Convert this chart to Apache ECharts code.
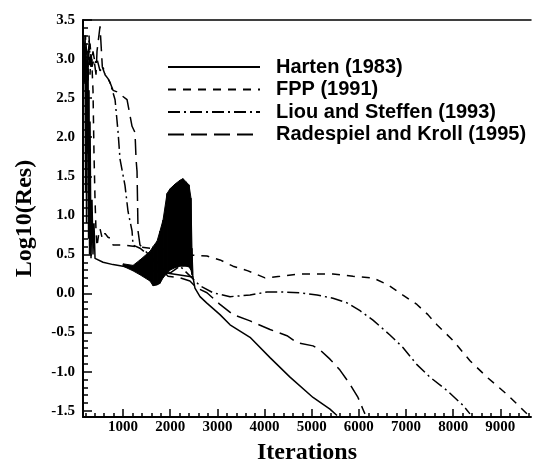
<!DOCTYPE html>
<html>
<head>
<meta charset="utf-8">
<script src="https://cdn.jsdelivr.net/npm/echarts@6/dist/echarts.min.js"></script>
<style>
html,body{margin:0;padding:0;background:#fff;}
#chart{width:533px;height:470px;}
</style>
</head>
<body>
<div id="chart"></div>
<script>
// ---- data ----
var seriesNames = ['Harten (1983)', 'FPP (1991)', 'Liou and Steffen (1993)', 'Radespiel and Kroll (1995)'];

var hartenX = [172,183,193,204,214,225,235,246,257,268,278,289,299,320,341,362,383,405,447,575,787,999,1500,2482,2524,2631,2771,3055,3268,3692,4116,4540,5028,5387,5536];
var hartenY = [3.05,2.7,3.2,1.3,3.0,0.9,2.8,1.8,3.1,0.7,2.6,0.5,2.2,0.45,1.2,0.5,0.9,0.45,0.43,0.40,0.37,0.35,0.30,0.21,0.07,-0.04,-0.12,-0.27,-0.40,-0.56,-0.82,-1.07,-1.33,-1.48,-1.56];

var fppX = [172,183,193,204,214,235,257,278,299,320,341,362,383,405,426,447,480,511,560,617,680,723,787,999,1571,1995,2482,2779,3055,3331,3649,4010,4328,4752,5113,5451,5875,6299,6617,6934,7231,7464,7655,7995,8356,8716,9140,9415,9564];
var fppY = [2.9,3.2,2.8,3.3,2.7,3.1,2.9,3.2,2.8,3.1,2.9,2.6,1.8,1.2,0.8,0.6,0.75,0.83,0.7,0.77,0.72,0.71,0.62,0.62,0.58,0.56,0.49,0.48,0.43,0.35,0.29,0.20,0.22,0.25,0.25,0.25,0.22,0.20,0.11,-0.02,-0.14,-0.27,-0.40,-0.60,-0.86,-1.07,-1.29,-1.45,-1.54];

var liouX = [172,193,214,235,257,278,299,320,362,405,447,511,575,617,680,723,830,893,935,1041,1105,1190,1211,1359,1995,2207,2631,2907,3268,3692,4052,4328,4752,5113,5451,5748,6024,6299,6658,6934,7231,7507,7867,8207,8356];
var liouY = [3.0,2.8,3.2,3.0,2.7,3.3,3.0,2.9,3.1,2.95,3.0,2.85,2.9,2.8,2.75,2.70,2.48,2.07,1.72,1.38,1.05,0.80,0.62,0.58,0.26,0.35,0.10,0.01,-0.04,-0.02,0.02,0.02,0.01,-0.02,-0.06,-0.12,-0.22,-0.34,-0.53,-0.69,-0.91,-1.07,-1.24,-1.43,-1.54];

var radX = [172,193,214,257,299,341,383,426,447,511,560,617,680,723,787,872,935,1084,1190,1253,1275,1296,1317,1359,1953,2207,2418,2567,2779,3055,3331,3692,4116,4476,4688,5028,5174,5387,5599,5811,5981,6086,6129];
var radY = [2.9,3.3,2.8,3.1,3.2,2.9,3.0,2.8,3.1,3.42,2.9,2.8,2.75,2.7,2.6,2.58,2.55,2.48,2.14,2.06,1.72,1.56,0.80,0.62,0.22,0.20,0.16,0.07,0.01,-0.14,-0.27,-0.35,-0.46,-0.54,-0.63,-0.67,-0.72,-0.84,-0.98,-1.16,-1.33,-1.48,-1.54];

// Harten oscillation band (envelopes of the rapidly oscillating solid line)
var bandX    = [999,1211,1359,1571,1635,1720,1783,1847,1932,1995,2101,2207,2271,2334,2398,2440,2461,2482];
var bandHigh = [0.38,0.36,0.43,0.54,0.60,0.67,0.80,0.94,1.28,1.34,1.40,1.45,1.47,1.43,1.39,1.22,0.58,0.26];
var bandLow  = [0.35,0.29,0.24,0.16,0.10,0.11,0.13,0.20,0.26,0.30,0.33,0.35,0.35,0.35,0.34,0.30,0.24,0.21];

var xMajorTicks = [1000,2000,3000,4000,5000,6000,7000,8000,9000];
var yMajorTicks = [-1.5,-1.0,-0.5,0.0,0.5,1.0,1.5,2.0,2.5,3.0,3.5];
var xRange = [150, 9650];
var yRange = [-1.58, 3.5];

// ---- build options ----
function pairs(xs, ys){ return xs.map(function(x,i){ return [x, ys[i]]; }); }
var xMinorTicks = [];
for (var t = 200; t <= 9600; t += 200) xMinorTicks.push(t);
var yMinorTicks = [];
for (var k = -15; k <= 35; k++) yMinorTicks.push(k/10);

var serifFamily = '"Liberation Serif","Times New Roman",serif';
var lineBase = {type:'line', symbol:'none', showSymbol:false, xAxisIndex:0, yAxisIndex:0, clip:true, animation:false,
  itemStyle:{color:'#000', opacity:0}};

var bandData = bandX.map(function(x,i){ return [x, bandLow[i], bandHigh[i]]; });

var chart = echarts.init(document.getElementById('chart'), null, {renderer:'canvas'});
chart.setOption({
  animation:false,
  color:['#000'],
  backgroundColor:'#fff',
  grid:{left:83, right:2, top:20, bottom:50, containLabel:false},
  legend:{
    orient:'vertical', left:162, top:52, itemWidth:92, itemHeight:14, itemGap:2.5,
    data:seriesNames,
    itemStyle:{opacity:0},
    textStyle:{fontFamily:'"Liberation Sans",Arial,sans-serif', fontWeight:'bold', fontSize:20, color:'#000', padding:[0,0,0,11]}
  },
  xAxis:[
    {type:'value', min:xRange[0], max:xRange[1], position:'bottom',
     name:'Iterations', nameLocation:'middle', nameGap:24,
     nameTextStyle:{fontSize:24, fontFamily:serifFamily, fontWeight:'bold', color:'#000'},
     axisLine:{show:true, onZero:false, lineStyle:{color:'#000', width:2}},
     axisTick:{show:true, inside:true, length:8, customValues:xMajorTicks, lineStyle:{color:'#000', width:1.5}},
     axisLabel:{show:true, customValues:xMajorTicks, margin:3, fontSize:15, fontFamily:serifFamily, fontWeight:'bold', color:'#000',
       formatter:function(v){ return String(v); }},
     splitLine:{show:false}},
    {type:'value', min:xRange[0], max:xRange[1], position:'bottom',
     axisLine:{show:false, onZero:false},
     axisTick:{show:true, inside:true, length:4, customValues:xMinorTicks, lineStyle:{color:'#000', width:1.5}},
     axisLabel:{show:false}, splitLine:{show:false}},
    {type:'value', min:xRange[0], max:xRange[1], position:'top',
     axisLine:{show:true, onZero:false, lineStyle:{color:'#000', width:1.5}},
     axisTick:{show:false}, axisLabel:{show:false}, splitLine:{show:false}}
  ],
  yAxis:[
    {type:'value', min:yRange[0], max:yRange[1], position:'left',
     name:'Log10(Res)', nameLocation:'middle', nameGap:46, nameRotate:90,
     nameTextStyle:{fontSize:24, fontFamily:serifFamily, fontWeight:'bold', color:'#000'},
     axisLine:{show:true, onZero:false, lineStyle:{color:'#000', width:2}},
     axisTick:{show:true, inside:true, length:9, customValues:yMajorTicks, lineStyle:{color:'#000', width:1.5}},
     axisLabel:{show:true, customValues:yMajorTicks, margin:8, fontSize:15, fontFamily:serifFamily, fontWeight:'bold', color:'#000',
       formatter:function(v){ return v.toFixed(1); }},
     splitLine:{show:false}},
    {type:'value', min:yRange[0], max:yRange[1], position:'left',
     axisLine:{show:false, onZero:false},
     axisTick:{show:true, inside:true, length:5, customValues:yMinorTicks, lineStyle:{color:'#000', width:1.5}},
     axisLabel:{show:false}, splitLine:{show:false}}
  ],
  series:[
    {type:'custom', name:'oscillation', xAxisIndex:0, yAxisIndex:0, silent:true, animation:false,
     data:bandData, encode:{x:0, y:[1,2]},
     renderItem:function(params, api){
       var i = params.dataIndex;
       if (i >= bandData.length - 1) return null;
       var a = bandData[i], b = bandData[i+1];
       var pts = [api.coord([a[0], a[2]]), api.coord([b[0], b[2]]), api.coord([b[0], b[1]]), api.coord([a[0], a[1]])];
       return {type:'polygon', shape:{points:pts}, style:{fill:'#000', stroke:'#000', lineWidth:1}};
     }},
    Object.assign({}, lineBase, {name:seriesNames[0], data:pairs(hartenX, hartenY), lineStyle:{color:'#000', width:1.5, type:'solid'}}),
    Object.assign({}, lineBase, {name:seriesNames[1], data:pairs(fppX, fppY), lineStyle:{color:'#000', width:1.5, type:[8,7]}}),
    Object.assign({}, lineBase, {name:seriesNames[2], data:pairs(liouX, liouY), lineStyle:{color:'#000', width:1.5, type:[12,4,2,4]}}),
    Object.assign({}, lineBase, {name:seriesNames[3], data:pairs(radX, radY), lineStyle:{color:'#000', width:1.5, type:[16,7]}})
  ]
});
</script>
</body>
</html>
